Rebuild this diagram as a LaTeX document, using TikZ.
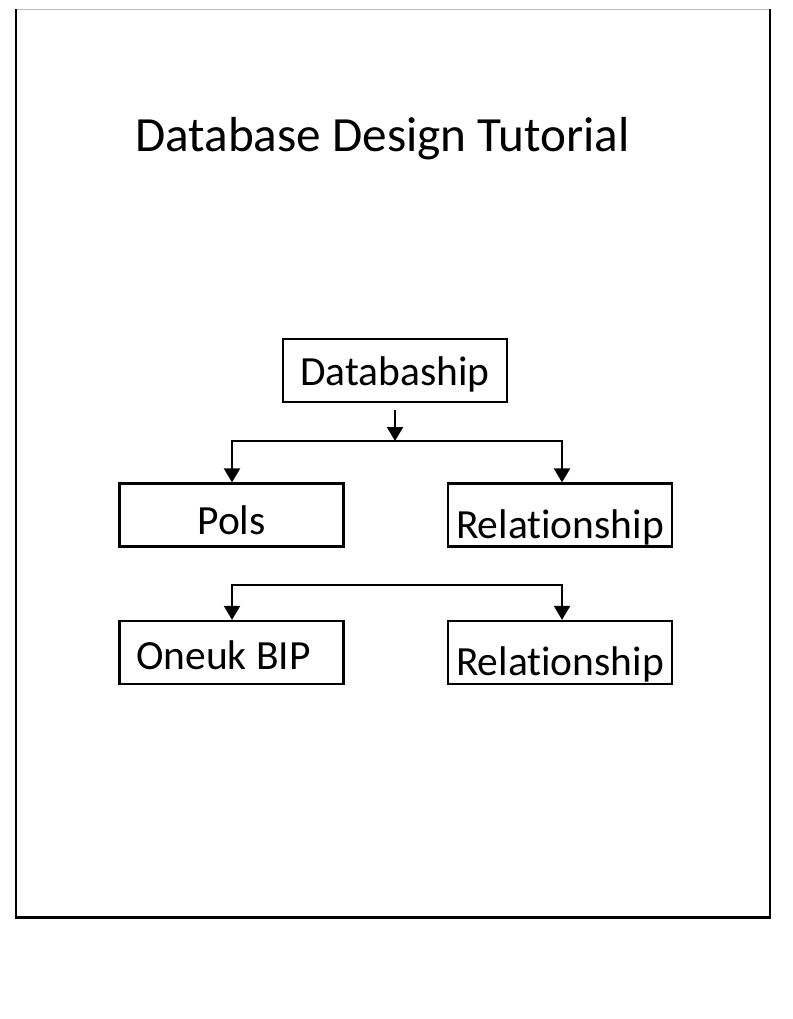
\documentclass[tikz,border=0pt]{standalone}
\usepackage{fontspec}
\setmainfont[Ligatures={NoCommon,NoDiscretionary}]{Carlito}
\usetikzlibrary{arrows.meta,calc}
\tikzset{
  frameline/.style={line width=2.5pt, black},
  boxnode/.style={draw, line width=2.2pt, rectangle, inner sep=0pt,
    minimum width=224pt, minimum height=63pt, font=\fontsize{41.5}{41.5}\selectfont,
    text depth=0pt},
  conn/.style={line width=2.2pt, -{Triangle[width=16pt,length=14pt]}},
}
\begin{document}
\begin{tikzpicture}[x=1pt,y=-1pt]
\useasboundingbox (0,0) rectangle (792,1019);
\fill[white] (0,0) rectangle (792,1019);
% frame
\draw[gray!50, line width=1pt] (16,10) -- (770,10);
\draw[frameline] (16,9.5) -- (16,917);
\draw[frameline] (770,9.5) -- (770,917);
\draw[line width=3pt, black] (14.75,917) -- (771.25,917);
% title
\node[anchor=base west, inner sep=0pt, font=\fontsize{49.2}{49.2}\selectfont] (title) at (135,152) {Database Design Tutorial};
% boxes
\node[boxnode, text height=30pt] (db) at (395,370.5) {Databaship};
\node[boxnode, text height=39pt] (pols) at (231.5,515) {Pols};
\node[boxnode, text height=47pt] (rel1) at (560,515) {Relationship};
\node[boxnode, text height=33pt] (oneuk) at (231.5,652.5) {Oneuk BIP\kern16pt};
\node[boxnode, text height=45pt] (rel2) at (560,652.5) {Relationship};
% junction points
\coordinate (j1) at (395,441);
\coordinate (j2) at (395,585);
% connectors
\draw[conn] ([yshift=-7pt]db.south) -- (j1);
\draw[conn] (j1) -| ([xshift=0.5pt]pols.north);
\draw[conn] (j1) -| ([xshift=2pt]rel1.north);
\draw[conn] (j2) -| ([xshift=0.5pt]oneuk.north);
\draw[conn] (j2) -| ([xshift=2pt]rel2.north);
\end{tikzpicture}
\end{document}
